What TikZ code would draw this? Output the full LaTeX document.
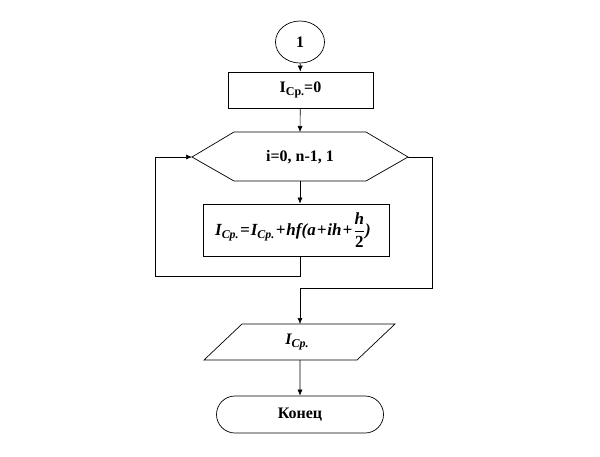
\documentclass[tikz,border=0pt]{standalone}
\usepackage{fontspec}
\setmainfont{Liberation Serif}
\usetikzlibrary{arrows.meta,shapes.geometric,shapes.misc}
\newcommand{\hfrac}[2]{\ensuremath{\displaystyle\frac{\hbox{#1}}{\hbox{\upshape #2}}}}
\newcommand{\hsp}{\hspace{1pt}}
\begin{document}
\begin{tikzpicture}[x=1pt,y=-1pt,
  box/.style={draw, line width=0.7pt, inner sep=0pt},
  shapeline/.style={draw, line width=0.7pt},
  conn/.style={draw, line width=0.6pt},
  arr/.style={conn, -{Latex[length=6pt,width=5pt]}},
  lbl/.style={font=\fontsize{16}{19}\selectfont\bfseries}]
\useasboundingbox[fill=white] (0,0) rectangle (600,456);
% start connector
\node[box, ellipse, minimum width=49pt, minimum height=42pt, lbl] (start) at (300,42) {1};
% init
\node[box, rectangle, minimum width=145pt, minimum height=36pt, lbl] (init) at (300.5,90)
  {I{\fontsize{12}{14}\selectfont\raisebox{-3pt}{Ср.}}=0};
% loop hexagon
\coordinate (hl) at (192,157);
\coordinate (hr) at (408,157);
\coordinate (ht) at (300,132);
\coordinate (hb) at (300,181);
\draw[shapeline] (hl) -- (234,132) -- (366,132) -- (hr) -- (366,181) -- (234,181) -- cycle;
\node[lbl] (loop) at (300,157) {i=0, n-1, 1};
% body
\node[box, rectangle, minimum width=186pt, minimum height=52pt, font=\fontsize{17}{20}\selectfont\bfseries] (body) at (296,230)
  {\hspace{-6pt}\itshape I\textsubscript{Ср.}\hsp=\hsp I\textsubscript{Ср.}\hsp+\hsp hf(a\hsp+\hsp ih\hsp+\hsp\hfrac{h}{2})};
% output parallelogram
\coordinate (pt) at (300,324);
\coordinate (pb) at (300,360);
\draw[shapeline] (242,324) -- (395,324) -- (357,360) -- (204,360) -- cycle;
\node[lbl] (out) at (297,342) {\itshape I{\fontsize{12}{14}\selectfont\raisebox{-3pt}{Ср.}}};
% terminator
\node[box, rounded rectangle, minimum width=167pt, minimum height=37pt, lbl] (end) at (300,414.5) {Конец};
% loop helper points
\coordinate (bb) at (300,256);
\coordinate (lb) at (155,276);
\coordinate (rr) at (432,157);
\coordinate (rb) at (432,288);
% connectors
\draw[arr] (start) -- (init);
\draw[arr] (init) -- (ht);
\draw[arr] (hb) -- (body.north -| hb);
\draw[arr] (bb) |- (lb) |- (hl);
\draw[arr] (hr) -- (rr) -- (rb) -| (pt);
\draw[arr] (pb) -- (end);
\end{tikzpicture}
\end{document}
